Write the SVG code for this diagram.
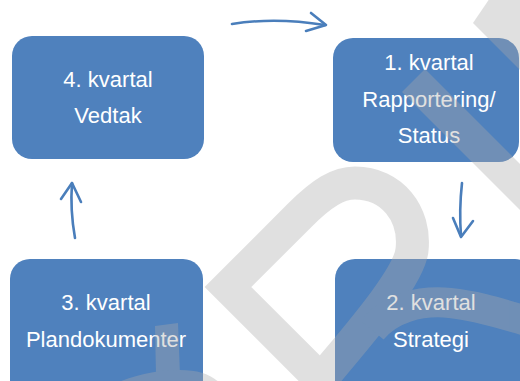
<svg xmlns="http://www.w3.org/2000/svg" width="520" height="381" viewBox="0 0 520 381">
  <style>
    .box { fill: #4f81bd; }
    .lbl { font-family: "Liberation Sans", Arial, sans-serif; font-size: 22px; fill: #ffffff; text-anchor: middle; }
    .arr { fill: none; stroke: #4a7ebb; stroke-width: 2.6; stroke-linecap: round; stroke-linejoin: round; }
    .wm { fill: #aaaaaa; }
    .wms { fill: none; stroke: #aaaaaa; }
  </style>
  <rect width="520" height="381" fill="#ffffff"/>
  <g id="node-q4">
    <rect class="box" x="12" y="36" width="192" height="123" rx="20"/>
    <text class="lbl" x="108" y="87">4. kvartal</text>
    <text class="lbl" x="108" y="123">Vedtak</text>
  </g>
  <g id="node-q1">
    <rect class="box" x="333" y="38" width="186" height="124" rx="20"/>
    <text class="lbl" x="429" y="70">1. kvartal</text>
    <text class="lbl" x="429" y="107">Rapportering/</text>
    <text class="lbl" x="429" y="143">Status</text>
  </g>
  <g id="node-q3">
    <rect class="box" x="10" y="259" width="193" height="150" rx="20"/>
    <text class="lbl" x="106" y="310">3. kvartal</text>
    <text class="lbl" x="106" y="347">Plandokumenter</text>
  </g>
  <g id="node-q2">
    <rect class="box" x="335" y="259" width="200" height="150" rx="20"/>
    <text class="lbl" x="431" y="310">2. kvartal</text>
    <text class="lbl" x="431" y="347">Strategi</text>
  </g>
  <g id="connectors">
    <path class="arr" d="M232,24 Q275,17 325,25"/>
    <polyline class="arr" points="311,13 326,25 306,31"/>
    <path class="arr" d="M462,183 Q459,210 461,236"/>
    <polyline class="arr" points="453,218 461,237 473,221"/>
    <path class="arr" d="M75,238 Q70,210 72,183"/>
    <polyline class="arr" points="61,199 72,183 81,202"/>
  </g>
  <g id="watermark" opacity="0.36">
    <path class="wms" stroke-width="33" stroke-linejoin="miter" d="M321,380 L228,287 L300,215 C322,193 338,183 355,183 C392,183 416,214 412,250 C409,280 345,350 321,380 Z"/>
    <path class="wms" stroke-width="30" d="M372,330 C390,308 420,300 450,303 C480,306 505,315 530,322"/>
    <polygon class="wm" points="155,326 178,323 180,375 156,375"/>
    <path class="wm" d="M112,385 C135,374 160,370 180,370 C200,370 212,375 222,385 Z"/>
    <polygon class="wm" points="490,-2 473,23 520,70 520,-2"/>
    <polygon class="wm" points="402,92 425,69 530,174 530,220"/>
  </g>
</svg>
